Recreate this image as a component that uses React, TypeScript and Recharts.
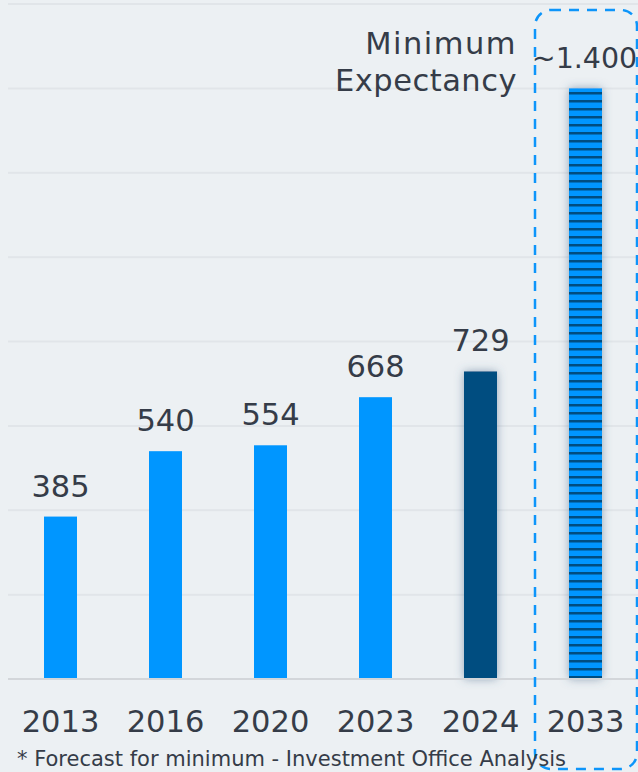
import React from 'react';
import { BarChart, Bar, XAxis, YAxis, CartesianGrid, LabelList } from 'recharts';

const years = ['2013', '2016', '2020', '2023', '2024', '2033'];
const values = [385, 540, 554, 668, 729, 1400];
const valueLabels = ['385', '540', '554', '668', '729', '~1.400'];
const yTicks = [0, 200, 400, 600, 800, 1000, 1200, 1400, 1600];

const FONT = '"DejaVu Sans", sans-serif';
const TEXT = '#353C48';
const LIGHT = '#0096FF';
const DARK = '#014D80';

const chartData = years.map((year, i) => ({ year, value: values[i], label: valueLabels[i] }));

const BarShape = (props: any) => {
  const { x, y, width, height, index } = props;
  if (index === 4) {
    return <rect x={x} y={y} width={width} height={height} fill={DARK} filter="url(#glow)" />;
  }
  if (index === 5) {
    return <rect x={x} y={y} width={width} height={height} fill="url(#stripes)" filter="url(#glow)" />;
  }
  return <rect x={x} y={y} width={width} height={height} fill={LIGHT} />;
};

const ValueLabel = (props: any) => {
  const { x, y, width, value, index } = props;
  const cx = x + width / 2;
  return (
    <g>
      <text
        x={index === 5 ? cx - 1 : cx}
        y={y - 20}
        textAnchor="middle"
        fontFamily={FONT}
        fontSize={index === 5 ? 28.5 : 30.5}
        fill={TEXT}
      >
        {value}
      </text>
      {index === 5 && (
        <g>
          <text x={x - 52} y={y - 34} textAnchor="end" fontFamily={FONT} fontSize={30.5} fill={TEXT} letterSpacing={1.5}>
            Minimum
          </text>
          <text x={x - 52} y={y + 3} textAnchor="end" fontFamily={FONT} fontSize={30.5} fill={TEXT} letterSpacing={0.5}>
            Expectancy
          </text>
          <rect
            x={x - 34}
            y={10}
            width={102}
            height={759}
            rx={16}
            fill="none"
            stroke="#0D95FA"
            strokeWidth={2.5}
            strokeDasharray="10 8"
          />
        </g>
      )}
    </g>
  );
};

const YearTick = (props: any) => {
  const { x, y, payload } = props;
  return (
    <text x={x} y={y + 45} textAnchor="middle" fontFamily={FONT} fontSize={30.5} fill={TEXT}>
      {payload.value}
    </text>
  );
};

export default function App() {
  return (
    <div style={{ position: 'absolute', left: 0, top: 0, width: 638, height: 772, background: '#ECF0F3' }}>
      <BarChart
        width={638}
        height={772}
        data={chartData}
        margin={{ top: 4, right: 0, left: 8, bottom: 0 }}
      >
        <defs>
          <pattern id="stripes" width={8} height={8} patternUnits="userSpaceOnUse">
            <rect x={0} y={0} width={8} height={8} fill={LIGHT} />
            <rect x={0} y={4} width={8} height={2.5} fill={DARK} />
          </pattern>
          <filter id="glow" x="-80%" y="-10%" width="260%" height="120%">
            <feDropShadow dx={0} dy={0} stdDeviation={5} floodColor="#4A6688" floodOpacity={0.55} />
          </filter>
        </defs>
        <CartesianGrid vertical={false} stroke="#E1E5E9" strokeWidth={2} />
        <YAxis hide domain={[0, 1600]} ticks={yTicks} />
        <XAxis
          dataKey="year"
          height={93}
          tickLine={false}
          axisLine={{ stroke: '#D3D6DA', strokeWidth: 2 }}
          tick={<YearTick />}
          interval={0}
        />
        <Bar dataKey="value" barSize={33} shape={<BarShape />} isAnimationActive={false}>
          <LabelList dataKey="label" content={<ValueLabel />} />
        </Bar>
      </BarChart>
      <svg
        width={638}
        height={772}
        style={{ position: 'absolute', left: 0, top: 0, pointerEvents: 'none' }}
      >
        <text x={17} y={766} fontFamily={FONT} fontSize={21} fill={TEXT}>
          * Forecast for minimum - Investment Office Analysis
        </text>
      </svg>
    </div>
  );
}
